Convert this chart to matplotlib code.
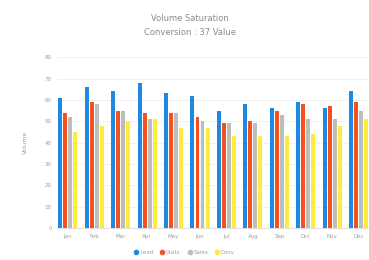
import numpy as np
import matplotlib
matplotlib.use("Agg")
import matplotlib.pyplot as plt
from matplotlib.lines import Line2D

# data (approximate)
months = ["Jan", "Feb", "Mar", "Apr", "May", "Jun", "Jul", "Aug", "Sep", "Oct", "Nov", "Dec"]
series_names = ["Lead", "Visits", "Sales", "Conv"]
lead = [61, 66, 64, 68, 63, 62, 55, 58, 56, 59, 56, 64]
visits = [54, 59, 55, 54, 54, 52, 49, 50, 55, 58, 57, 59]
sales = [52, 58, 55, 51, 54, 50, 49, 49, 53, 51, 51, 55]
conv = [45, 48, 50, 51, 47, 47, 43, 43, 43, 44, 48, 51]
y_ticks = [0, 10, 20, 30, 40, 50, 60, 70, 80]

colors = ["#1e88e5", "#f4511e", "#bdbdbd", "#ffeb3b"]
txt = "#9e9e9e"

fig = plt.figure(figsize=(3.69, 2.60), dpi=100)
ax = fig.add_axes([0.155, 0.123, 0.86, 0.657])

x = np.arange(len(months))
w = 0.15
for i, (vals, c, name) in enumerate(zip([lead, visits, sales, conv], colors, series_names)):
    ax.bar(x + (i - 1.5) * 0.19, vals, width=w, color=c, label=name, zorder=3)

ax.set_xlim(-0.4, len(months) - 0.4)
ax.set_ylim(0, 80)
ax.set_yticks(y_ticks)
ax.set_yticklabels([f"{v:,}" for v in y_ticks], fontsize=4, color=txt)
ax.set_xticks(x)
ax.set_xticklabels(months, fontsize=4, color=txt)
ax.tick_params(length=0, pad=4)
ax.grid(axis="y", color="#eeeeee", linewidth=0.6, zorder=0)
for s in ax.spines.values():
    s.set_visible(False)
ax.spines["bottom"].set_visible(True)
ax.spines["bottom"].set_color("#e0e0e0")
ax.set_ylabel("Volume", fontsize=4.5, color=txt, labelpad=12)

fig.text(0.515, 0.93, "Volume Saturation", ha="center", va="center", fontsize=6, color="#8a8a8a")
fig.text(0.515, 0.875, "Conversion : 37 Value", ha="center", va="center", fontsize=6, color="#8a8a8a")

handles = [Line2D([], [], marker="o", linestyle="", markersize=3, color=c) for c in colors]
fig.legend(handles, series_names, loc="lower center", bbox_to_anchor=(0.5, 0.0), ncol=4,
           frameon=False, fontsize=4, labelcolor=txt, handlelength=0.8,
           columnspacing=1.2, handletextpad=0.3)

fig.savefig("out.png", dpi=100, facecolor="white")
